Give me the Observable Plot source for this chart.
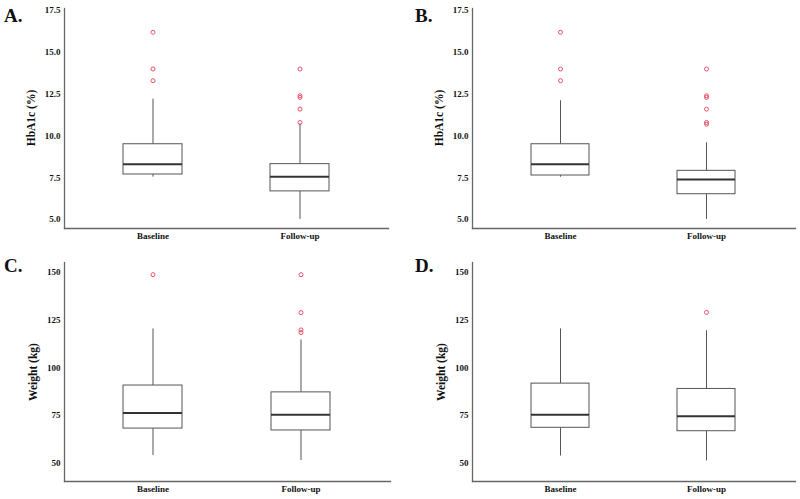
<!DOCTYPE html>
<html>
<head>
<meta charset="utf-8">
<script src="https://cdn.jsdelivr.net/npm/d3@7"></script>
<script src="https://cdn.jsdelivr.net/npm/@observablehq/plot@0.6"></script>
<style>
  html, body { margin: 0; padding: 0; background: #fff; }
  #root { position: relative; width: 800px; height: 499px; overflow: hidden; font-family: "Liberation Serif", "Times New Roman", serif; }
  .panel { position: absolute; }
  .letter { position: absolute; font-size: 19px; font-weight: bold; color: #111; line-height: 1; }
  .ylab { position: absolute; font-size: 11.5px; font-weight: bold; color: #111; white-space: nowrap; transform: translate(-50%, -50%) rotate(-90deg); }
</style>
</head>
<body>
<div id="root"></div>
<script>
// ---- Data ----
const groups = ["Baseline", "Follow-up"];

// A. HbA1c (%)
const hbaA_low    = [7.53, 5.0];
const hbaA_q1     = [7.69, 6.68];
const hbaA_median = [8.31, 7.55];
const hbaA_q3     = [9.50, 8.31];
const hbaA_high   = [12.2, 10.72];
const hbaA_outGroup = ["Baseline", "Baseline", "Baseline", "Follow-up", "Follow-up", "Follow-up", "Follow-up", "Follow-up"];
const hbaA_outValue = [16.2, 14.0, 13.3, 14.0, 12.4, 12.3, 11.6, 10.8];

// B. HbA1c (%)
const hbaB_low    = [7.53, 5.0];
const hbaB_q1     = [7.63, 6.51];
const hbaB_median = [8.31, 7.39];
const hbaB_q3     = [9.50, 7.91];
const hbaB_high   = [12.1, 9.59];
const hbaB_outGroup = ["Baseline", "Baseline", "Baseline", "Follow-up", "Follow-up", "Follow-up", "Follow-up", "Follow-up", "Follow-up"];
const hbaB_outValue = [16.2, 14.0, 13.3, 14.0, 12.4, 12.3, 11.6, 10.8, 10.7];

// C. Weight (kg)
const wtC_low    = [53.8, 51.2];
const wtC_q1     = [68.0, 67.0];
const wtC_median = [76.2, 75.3];
const wtC_q3     = [90.6, 87.0];
const wtC_high   = [120.3, 114.5];
const wtC_outGroup = ["Baseline", "Follow-up", "Follow-up", "Follow-up", "Follow-up"];
const wtC_outValue = [148.8, 148.8, 128.9, 119.8, 118.4];

// D. Weight (kg)
const wtD_low    = [53.6, 51.0];
const wtD_q1     = [68.4, 66.6];
const wtD_median = [75.2, 74.4];
const wtD_q3     = [91.6, 88.8];
const wtD_high   = [120.3, 119.4];
const wtD_outGroup = ["Follow-up"];
const wtD_outValue = [129.0];

// Axis tick labels
const hbaTicks = [5.0, 7.5, 10.0, 12.5, 15.0, 17.5];
const wtTicks  = [50, 75, 100, 125, 150];

function summaryRows(low, q1, med, q3, high) {
  return groups.map((g, i) => ({group: g, low: low[i], q1: q1[i], median: med[i], q3: q3[i], high: high[i]}));
}
function outlierRows(gs, vs) {
  return gs.map((g, i) => ({group: g, value: vs[i]}));
}

const panels = [
  {letter: "A.", left: 0,   top: 0,   height: 250, ml: 64, mr: 12, mt: 8,  mb: 22,
   domain: [4.46, 17.62], ticks: hbaTicks, fmt: d3.format(".1f"), ylabel: "HbA1c (%)", ylabX: 31, lx: 4, ly: 6,
   rows: summaryRows(hbaA_low, hbaA_q1, hbaA_median, hbaA_q3, hbaA_high), outs: outlierRows(hbaA_outGroup, hbaA_outValue)},
  {letter: "B.", left: 400, top: 0,   height: 250, ml: 72, mr: 5,  mt: 8,  mb: 22,
   domain: [4.46, 17.62], ticks: hbaTicks, fmt: d3.format(".1f"), ylabel: "HbA1c (%)", ylabX: 39, lx: 15, ly: 6,
   rows: summaryRows(hbaB_low, hbaB_q1, hbaB_median, hbaB_q3, hbaB_high), outs: outlierRows(hbaB_outGroup, hbaB_outValue)},
  {letter: "C.", left: 0,   top: 250, height: 249, ml: 64, mr: 10, mt: 12, mb: 18,
   domain: [40.2, 155.2], ticks: wtTicks, fmt: d3.format("d"), ylabel: "Weight (kg)", ylabX: 33, lx: 4, ly: 6,
   rows: summaryRows(wtC_low, wtC_q1, wtC_median, wtC_q3, wtC_high), outs: outlierRows(wtC_outGroup, wtC_outValue)},
  {letter: "D.", left: 400, top: 250, height: 249, ml: 72, mr: 5,  mt: 12, mb: 18,
   domain: [40.2, 155.2], ticks: wtTicks, fmt: d3.format("d"), ylabel: "Weight (kg)", ylabX: 41, lx: 15, ly: 6,
   rows: summaryRows(wtD_low, wtD_q1, wtD_median, wtD_q3, wtD_high), outs: outlierRows(wtD_outGroup, wtD_outValue)}
];

const root = document.getElementById("root");

for (const p of panels) {
  const chart = Plot.plot({
    width: 400,
    height: p.height,
    marginLeft: p.ml,
    marginRight: p.mr,
    marginTop: p.mt,
    marginBottom: p.mb,
    style: {fontFamily: "'Liberation Serif', 'Times New Roman', serif", fontWeight: "bold", fontSize: "9px", color: "#111", background: "transparent", overflow: "visible"},
    x: {type: "band", domain: groups, paddingInner: 0.6, paddingOuter: 0.4, align: 0.5},
    y: {domain: p.domain},
    marks: [
      Plot.axisX({tickSize: 0, tickPadding: 4, label: null}),
      Plot.axisY({ticks: p.ticks, tickFormat: p.fmt, tickSize: 0, tickPadding: 4, label: null}),
      Plot.ruleX(p.rows, {x: "group", y1: "low", y2: "q1", stroke: "#555", strokeWidth: 1}),
      Plot.ruleX(p.rows, {x: "group", y1: "q3", y2: "high", stroke: "#555", strokeWidth: 1}),
      Plot.barY(p.rows, {x: "group", y1: "q1", y2: "q3", fill: "white", stroke: "#555", strokeWidth: 1}),
      Plot.tickY(p.rows, {x: "group", y: "median", stroke: "#333", strokeWidth: 2}),
      Plot.dot(p.outs, {x: "group", y: "value", r: 2, stroke: "#e5546a", strokeWidth: 1, fill: "none"}),
      Plot.frame({anchor: "left", stroke: "#666", strokeWidth: 1.3}),
      Plot.frame({anchor: "bottom", stroke: "#666", strokeWidth: 1.3})
    ]
  });
  const div = document.createElement("div");
  div.className = "panel";
  div.style.left = p.left + "px";
  div.style.top = p.top + "px";
  div.appendChild(chart);
  root.appendChild(div);

  const letter = document.createElement("div");
  letter.className = "letter";
  letter.textContent = p.letter;
  letter.style.left = (p.left + p.lx) + "px";
  letter.style.top = (p.top + p.ly) + "px";
  root.appendChild(letter);

  const yl = document.createElement("div");
  yl.className = "ylab";
  yl.textContent = p.ylabel;
  yl.style.left = (p.left + p.ylabX) + "px";
  yl.style.top = (p.top + (p.mt + (p.height - p.mb)) / 2) + "px";
  root.appendChild(yl);
}
</script>
</body>
</html>
